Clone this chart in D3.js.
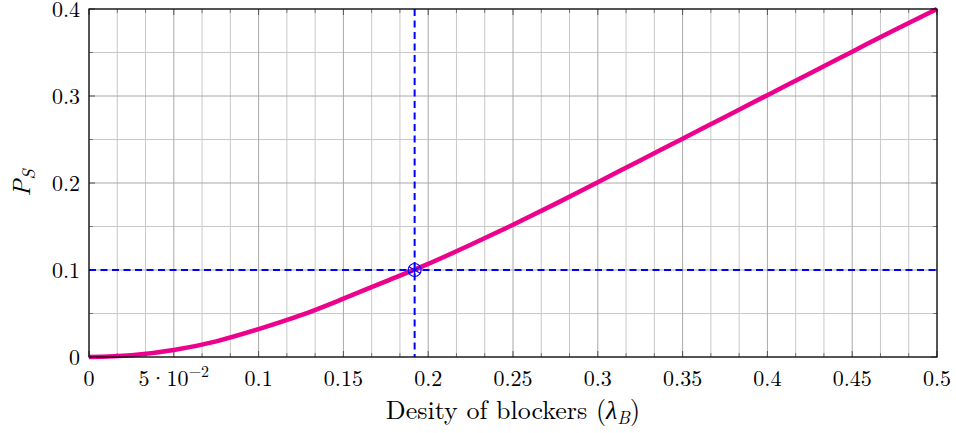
<!DOCTYPE html>
<html>
<head>
<meta charset="utf-8">
<script src="https://cdn.jsdelivr.net/npm/d3@7"></script>
<style>
  body { margin: 0; background: #fff; }
  text { font-family: "Latin Modern Roman", "Liberation Serif", "DejaVu Serif", serif; fill: #000; }
</style>
</head>
<body>
<svg id="graph" width="956" height="433"></svg>
<script>
// blocker density vs P_S
const lambdaVals = [0, 0.025, 0.05, 0.075, 0.1, 0.125, 0.15, 0.175, 0.2, 0.225, 0.25,
                    0.275, 0.3, 0.325, 0.35, 0.375, 0.4, 0.425, 0.45, 0.475, 0.5];
const psVals = [0, 0.002, 0.008, 0.018, 0.032, 0.048, 0.067, 0.087, 0.107, 0.129, 0.152,
                0.176, 0.201, 0.226, 0.251, 0.276, 0.301, 0.326, 0.351, 0.376, 0.4];
const markLambda = 0.192;
const markPs = 0.1;
const xTickVals = [0, 0.05, 0.1, 0.15, 0.2, 0.25, 0.3, 0.35, 0.4, 0.45, 0.5];
const xTickLabels = ["0", "5·10^-2", "0.1", "0.15", "0.2", "0.25", "0.3", "0.35", "0.4", "0.45", "0.5"];
const yTickVals = [0, 0.1, 0.2, 0.3, 0.4];
const yTickLabels = ["0", "0.1", "0.2", "0.3", "0.4"];

let margin = {left: 89, top: 9, right: 19, bottom: 76};
let width = 956 - margin.left - margin.right;
let height = 433 - margin.top - margin.bottom;

let svg = d3.select("#graph");
let g = svg.append("g").attr("transform", "translate(" + margin.left + "," + margin.top + ")");

let x = d3.scaleLinear().domain([0, 0.5]).range([0, width]);
let y = d3.scaleLinear().domain([0, 0.4]).range([height, 0]);

//minor / major grid
let xMinor = d3.range(0, 31).filter(i => i % 3 != 0).map(i => i / 60);
let yMinor = [0.05, 0.15, 0.25, 0.35];

g.selectAll(".gxm").data(xMinor).enter().append("line")
  .attr("x1", d => x(d)).attr("x2", d => x(d))
  .attr("y1", 0).attr("y2", height)
  .attr("stroke", "#c8c8c8").attr("stroke-width", 1);

g.selectAll(".gym").data(yMinor).enter().append("line")
  .attr("x1", 0).attr("x2", width)
  .attr("y1", d => y(d)).attr("y2", d => y(d))
  .attr("stroke", "#c8c8c8").attr("stroke-width", 1);

g.selectAll(".gxM").data(xTickVals).enter().append("line")
  .attr("x1", d => x(d)).attr("x2", d => x(d))
  .attr("y1", 0).attr("y2", height)
  .attr("stroke", "#a8a8a8").attr("stroke-width", 1);

g.selectAll(".gyM").data(yTickVals).enter().append("line")
  .attr("x1", 0).attr("x2", width)
  .attr("y1", d => y(d)).attr("y2", d => y(d))
  .attr("stroke", "#a8a8a8").attr("stroke-width", 1);

//inward ticks on all four sides
function ticks(vals, len, color) {
  vals.forEach(v => {
    g.append("line").attr("x1", x(v)).attr("x2", x(v)).attr("y1", height).attr("y2", height - len).attr("stroke", color);
    g.append("line").attr("x1", x(v)).attr("x2", x(v)).attr("y1", 0).attr("y2", len).attr("stroke", color);
  });
}
ticks(xTickVals, 6, "#555");
ticks(xMinor, 4, "#777");
function yticks(vals, len, color) {
  vals.forEach(v => {
    g.append("line").attr("y1", y(v)).attr("y2", y(v)).attr("x1", 0).attr("x2", len).attr("stroke", color);
    g.append("line").attr("y1", y(v)).attr("y2", y(v)).attr("x1", width).attr("x2", width - len).attr("stroke", color);
  });
}
yticks(yTickVals, 6, "#555");
yticks(yMinor, 4, "#777");

//dashed guide lines
g.append("line")
  .attr("x1", x(markLambda)).attr("x2", x(markLambda))
  .attr("y1", 0).attr("y2", height)
  .attr("stroke", "#0000ff").attr("stroke-width", 2).attr("stroke-dasharray", "7,4.5");
g.append("line")
  .attr("x1", 0).attr("x2", width)
  .attr("y1", y(markPs)).attr("y2", y(markPs))
  .attr("stroke", "#0000ff").attr("stroke-width", 2).attr("stroke-dasharray", "7,4.5");

//curve
let points = lambdaVals.map((l, i) => [x(l), y(psVals[i])]);
g.append("path")
  .attr("d", d3.line().curve(d3.curveMonotoneX)(points))
  .attr("fill", "none")
  .attr("stroke", "#ec008c")
  .attr("stroke-width", 4.5);

//marker: circle with asterisk
let mx = x(markLambda), my = y(markPs);
g.append("circle").attr("cx", mx).attr("cy", my).attr("r", 6.5)
  .attr("fill", "none").attr("stroke", "#0000ff").attr("stroke-width", 1.2);
[90, 30, 150].forEach(a => {
  let r = 6.5, rad = a * Math.PI / 180;
  g.append("line")
    .attr("x1", mx - r * Math.cos(rad)).attr("x2", mx + r * Math.cos(rad))
    .attr("y1", my - r * Math.sin(rad)).attr("y2", my + r * Math.sin(rad))
    .attr("stroke", "#0000ff").attr("stroke-width", 1.2);
});

//frame
g.append("rect").attr("width", width).attr("height", height)
  .attr("fill", "none").attr("stroke", "#000").attr("stroke-width", 1.2);

//tick labels
g.selectAll(".xl").data(xTickVals).enter().append("text")
  .attr("x", d => x(d)).attr("y", height + 29)
  .attr("text-anchor", "middle")
  .style("font-size", "22px")
  .each(function(d, i) {
    let lab = xTickLabels[i];
    let t = d3.select(this);
    if (lab.indexOf("^") >= 0) {
      let parts = lab.split("^");
      t.append("tspan").text(parts[0]);
      t.append("tspan").attr("dy", -9).style("font-size", "16px").text(parts[1].replace("-", "\u2212"));
    } else {
      t.text(lab);
    }
  });

g.selectAll(".yl").data(yTickVals).enter().append("text")
  .attr("x", -9).attr("y", d => y(d) + 8)
  .attr("text-anchor", "end")
  .style("font-size", "22px")
  .text((d, i) => yTickLabels[i]);

//axis labels
let xl = svg.append("text")
  .attr("x", margin.left + width / 2).attr("y", 419)
  .attr("text-anchor", "middle")
  .style("font-size", "26px");
xl.append("tspan").text("Desity of blockers (");
xl.append("tspan").style("font-style", "italic").text("\u03bb");
xl.append("tspan").attr("dy", 5).style("font-style", "italic").style("font-size", "18px").text("B");
xl.append("tspan").attr("dy", -5).text(")");

let yl = svg.append("text")
  .attr("transform", "translate(30," + (margin.top + y(0.2)) + ") rotate(-90)")
  .attr("text-anchor", "middle")
  .style("font-size", "25px");
yl.append("tspan").style("font-style", "italic").text("P");
yl.append("tspan").attr("dy", 5).style("font-style", "italic").style("font-size", "18px").text("S");
</script>
</body>
</html>
